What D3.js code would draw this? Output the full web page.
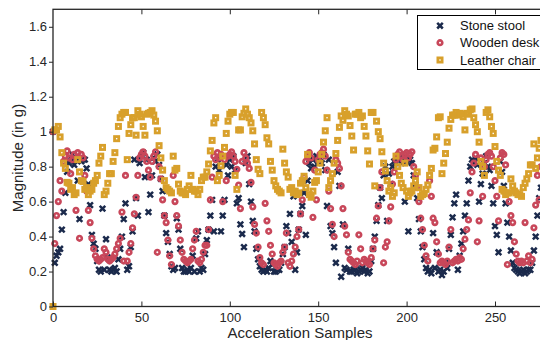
<!DOCTYPE html>
<html><head><meta charset="utf-8">
<script src="https://cdn.jsdelivr.net/npm/d3@7"></script>
<style>html,body{margin:0;padding:0;background:#fff;overflow:hidden}</style>
</head><body>
<svg id="c" width="540" height="340"></svg>
<script>
const stoneStool=[1.00,0.25,0.29,0.31,0.33,0.44,0.54,0.65,0.77,0.82,
0.85,0.87,0.81,0.84,0.72,0.50,0.83,0.84,0.84,0.79,
0.70,0.58,0.41,0.36,0.33,0.26,0.21,0.20,0.56,0.21,
0.385,0.28,0.21,0.20,0.21,0.22,0.20,0.27,0.33,0.40,
0.50,0.59,0.21,0.23,0.34,0.43,0.84,0.62,0.52,0.82,
0.86,0.88,0.74,0.84,0.54,0.64,0.75,0.85,0.83,0.87,
0.81,0.73,0.66,0.52,0.42,0.37,0.30,0.23,0.21,0.22,
0.505,0.44,0.33,0.22,0.20,0.20,0.21,0.20,0.22,0.29,
0.20,0.39,0.43,0.20,0.22,0.21,0.30,0.38,0.44,0.52,
0.61,0.43,0.80,0.84,0.78,0.43,0.52,0.61,0.81,0.75,
0.84,0.80,0.86,0.78,0.59,0.62,0.47,0.415,0.34,0.82,
0.86,0.70,0.60,0.49,0.43,0.33,0.27,0.23,0.21,0.20,
0.21,0.20,0.22,0.26,0.24,0.20,0.20,0.21,0.21,0.25,
0.30,0.34,0.46,0.42,0.53,0.37,0.63,0.21,0.31,0.44,
0.53,0.575,0.65,0.41,0.72,0.82,0.79,0.84,0.80,0.86,
0.83,0.85,0.82,0.87,0.78,0.575,0.84,0.46,0.42,0.34,
0.25,0.77,0.69,0.17,0.47,0.22,0.21,0.33,0.20,0.20,
0.21,0.22,0.19,0.20,0.21,0.22,0.20,0.21,0.19,0.20,
0.26,0.33,0.40,0.49,0.58,0.68,0.62,0.75,0.80,0.49,
0.76,0.70,0.80,0.83,0.82,0.85,0.84,0.82,0.85,0.60,
0.83,0.43,0.84,0.82,0.75,0.70,0.62,0.50,0.43,0.34,
0.27,0.22,0.20,0.21,0.19,0.42,0.22,0.31,0.20,0.21,
0.18,0.20,0.25,0.22,0.33,0.41,0.51,0.59,0.64,0.21,
0.29,0.36,0.43,0.52,0.59,0.72,0.80,0.84,0.82,0.85,
0.81,0.60,0.70,0.76,0.82,0.86,0.80,0.78,0.69,0.59,
0.46,0.41,0.31,0.83,0.77,0.69,0.59,0.48,0.40,0.32,
0.25,0.22,0.21,0.20,0.19,0.20,0.21,0.19,0.20,0.21,
0.21,0.25,0.32,0.40,0.52,0.62,0.68];

const woodenDesk=[1.00,0.36,0.52,0.60,0.72,0.66,0.83,0.86,0.89,0.85,
0.76,0.84,0.87,0.55,0.88,0.39,0.87,0.85,0.75,0.66,
0.55,0.48,0.39,0.33,0.29,0.27,0.26,0.27,0.28,0.33,
0.31,0.27,0.26,0.27,0.28,0.30,0.33,0.36,0.39,0.54,
0.26,0.75,0.26,0.31,0.36,0.45,0.53,0.625,0.75,0.85,
0.87,0.885,0.86,0.83,0.78,0.74,0.83,0.86,0.885,0.31,
0.80,0.73,0.61,0.52,0.48,0.38,0.29,0.24,0.75,0.60,
0.52,0.46,0.38,0.31,0.27,0.26,0.25,0.26,0.27,0.33,
0.38,0.43,0.26,0.25,0.27,0.31,0.35,0.35,0.44,0.61,
0.74,0.86,0.84,0.88,0.85,0.87,0.60,0.84,0.72,0.86,
0.87,0.885,0.86,0.83,0.785,0.695,0.56,0.83,0.88,0.85,
0.82,0.79,0.71,0.57,0.47,0.42,0.34,0.28,0.25,0.24,
0.59,0.49,0.43,0.35,0.30,0.25,0.24,0.23,0.25,0.26,
0.31,0.34,0.42,0.25,0.23,0.26,0.30,0.34,0.40,0.44,
0.53,0.61,0.74,0.83,0.86,0.88,0.85,0.51,0.78,0.61,
0.84,0.87,0.88,0.90,0.86,0.78,0.66,0.56,0.47,0.40,
0.84,0.82,0.79,0.69,0.56,0.46,0.41,0.31,0.27,0.26,
0.25,0.24,0.26,0.41,0.33,0.25,0.27,0.26,0.25,0.24,
0.28,0.33,0.38,0.505,0.575,0.68,0.77,0.25,0.34,0.37,
0.49,0.57,0.70,0.77,0.84,0.87,0.885,0.86,0.84,0.87,
0.88,0.85,0.87,0.885,0.80,0.75,0.68,0.60,0.505,0.44,
0.35,0.29,0.26,0.72,0.63,0.505,0.48,0.37,0.30,0.25,
0.26,0.25,0.24,0.26,0.34,0.44,0.25,0.26,0.27,0.26,
0.28,0.27,0.33,0.385,0.44,0.495,0.65,0.77,0.82,0.87,
0.37,0.49,0.85,0.63,0.80,0.84,0.87,0.88,0.86,0.80,
0.72,0.63,0.49,0.85,0.88,0.87,0.81,0.24,0.60,0.52,
0.48,0.37,0.30,0.26,0.25,0.26,0.25,0.48,0.26,0.29,
0.25,0.27,0.45,0.58,0.75,0.61,0.80];

const leatherChair=[0.00,1.01,1.01,1.03,0.97,0.88,0.82,0.79,0.71,0.705,
0.67,0.68,0.64,0.65,0.84,0.77,0.72,0.715,0.67,0.68,
0.64,0.66,0.67,0.705,0.72,0.75,0.82,0.86,0.91,0.64,
0.66,0.705,0.76,0.76,0.83,0.88,0.96,1.03,1.08,1.10,
1.11,1.11,0.84,0.99,1.04,1.08,1.08,0.98,1.12,1.10,
1.085,1.03,0.98,1.10,1.105,1.11,1.12,1.095,1.06,1.005,
0.92,0.85,0.78,0.72,0.68,0.67,0.66,0.65,0.86,0.78,
0.79,0.70,0.66,0.65,0.65,0.64,0.67,0.69,0.75,0.67,
0.66,0.66,0.64,0.67,0.72,0.74,0.74,0.77,0.815,0.89,
0.95,1.05,1.08,0.72,0.75,0.805,0.86,0.91,0.99,1.06,
1.10,1.11,1.11,0.75,0.67,1.01,1.01,1.085,1.105,1.13,
1.10,1.08,1.05,1.005,0.93,0.84,0.785,0.76,1.11,1.08,
1.04,0.965,0.93,0.83,0.78,0.72,0.69,0.67,0.66,0.65,
0.90,0.82,0.77,0.74,0.67,0.68,0.65,0.66,0.64,0.65,
0.705,0.72,0.745,0.68,0.87,0.64,0.625,0.66,0.71,0.72,
0.77,0.82,0.87,0.94,1.005,1.08,0.68,0.72,0.76,0.82,
0.875,0.95,1.025,1.09,1.065,1.12,1.10,1.09,1.035,0.975,
0.895,1.10,1.10,1.11,1.08,1.09,1.03,0.975,0.89,0.815,
1.11,1.11,0.69,1.06,1.00,0.96,0.885,0.82,0.775,0.72,
0.66,0.68,0.63,0.65,0.86,0.80,0.75,0.705,0.68,0.82,
0.66,0.63,0.65,0.66,0.69,0.72,0.77,0.68,0.63,0.64,
0.645,0.67,0.695,0.75,0.79,0.895,0.905,0.97,1.08,1.085,
0.76,0.82,0.875,0.94,1.02,1.07,1.095,1.095,1.11,1.095,
1.105,1.10,1.085,1.01,1.105,1.10,1.125,1.13,1.08,1.04,
1.00,0.94,0.83,0.80,0.75,1.11,1.125,1.085,1.03,0.99,
0.915,0.83,0.78,0.75,0.67,0.66,0.64,0.65,0.65,0.73,
0.69,0.66,0.65,0.64,0.64,0.63,0.68,0.705,0.73,0.76,
0.81,0.81,0.93,0.79,0.85,0.905,0.95];

const seriesNames=["Stone stool","Wooden desk","Leather chair"];
const seriesColors=["#1b2a4c","#c8475a","#d8a02b"];
const xTicks=[0,50,100,150,200,250];
const yTicks=[0,0.2,0.4,0.6,0.8,1,1.2,1.4,1.6];
const yTickLabels=["0","0.2","0.4","0.6","0.8","1","1.2","1.4","1.6"];
const xLabel="Acceleration Samples";
const yLabel="Magnitude (in g)";

const svg=d3.select("#c");
const x=d3.scaleLinear().domain([0,282]).range([53,53+282*1.768]);
const y=d3.scaleLinear().domain([0,1.7]).range([306.5,9.3]);
const axisColor="#262626";
const font="'Liberation Sans', Arial, Helvetica, sans-serif";

function drawMarker(g,kind,color){
  if(kind===0){
    g.append("path").attr("d","M-2.8,-2.8L2.8,2.8M-2.8,2.8L2.8,-2.8")
      .attr("stroke",color).attr("stroke-width",2.5).attr("fill","none");
  }else if(kind===1){
    g.append("circle").attr("r",2.3).attr("fill","none")
      .attr("stroke",color).attr("stroke-width",2.6);
  }else{
    g.append("rect").attr("x",-2.1).attr("y",-2.1).attr("width",4.2).attr("height",4.2)
      .attr("fill","none").attr("stroke",color).attr("stroke-width",2.8);
  }
}

const plot=svg.append("g");
[stoneStool,woodenDesk,leatherChair].forEach((vals,k)=>{
  const gs=plot.append("g");
  vals.forEach((v,i)=>{
    const g=gs.append("g").attr("transform",`translate(${x(i)},${y(v)})`);
    drawMarker(g,k,seriesColors[k]);
  });
});

svg.append("rect").attr("x",x(0)).attr("y",y(1.7)).attr("width",x(282)-x(0)).attr("height",y(0)-y(1.7))
  .attr("fill","none").attr("stroke",axisColor).attr("stroke-width",1.3);

const xb=svg.append("g").attr("transform",`translate(0,${y(0)})`)
  .call(d3.axisBottom(x).tickValues(xTicks).tickSize(-5).tickPadding(6).tickFormat(d3.format("d")));
const xt=svg.append("g").attr("transform",`translate(0,${y(1.7)})`)
  .call(d3.axisTop(x).tickValues(xTicks.filter(d=>d>0)).tickSize(-5).tickFormat(""));
const yl=svg.append("g").attr("transform",`translate(${x(0)},0)`)
  .call(d3.axisLeft(y).tickValues(yTicks).tickSize(4).tickPadding(2).tickFormat((d,i)=>yTickLabels[i]));
[xb,xt,yl].forEach(a=>{
  a.select(".domain").remove();
  a.selectAll(".tick line").attr("stroke",axisColor).attr("stroke-width",1);
  a.selectAll(".tick text").attr("fill",axisColor).style("font-family",font).style("font-size","13px");
});

svg.append("text").attr("x",(227+373)/2).attr("y",338).attr("text-anchor","middle")
  .style("font-family",font).style("font-size","15px").attr("fill",axisColor).text(xLabel);
svg.append("text").attr("transform","translate(22.5,158) rotate(-90)").attr("text-anchor","middle")
  .style("font-family",font).style("font-size","15px").attr("fill",axisColor).text(yLabel);

const lg=svg.append("g");
lg.append("rect").attr("x",417.5).attr("y",15.5).attr("width",130).attr("height",54)
  .attr("fill","#fff").attr("stroke","#000").attr("stroke-width",1);
const rows=[25.7,42.7,60];
seriesNames.forEach((n,k)=>{
  const g=lg.append("g").attr("transform",`translate(440,${rows[k]})`);
  drawMarker(g,k,seriesColors[k]);
  lg.append("text").attr("x",460).attr("y",rows[k]+4.6).style("font-family",font)
    .style("font-size","13px").attr("fill","#111").text(n);
});
</script>
</body></html>
